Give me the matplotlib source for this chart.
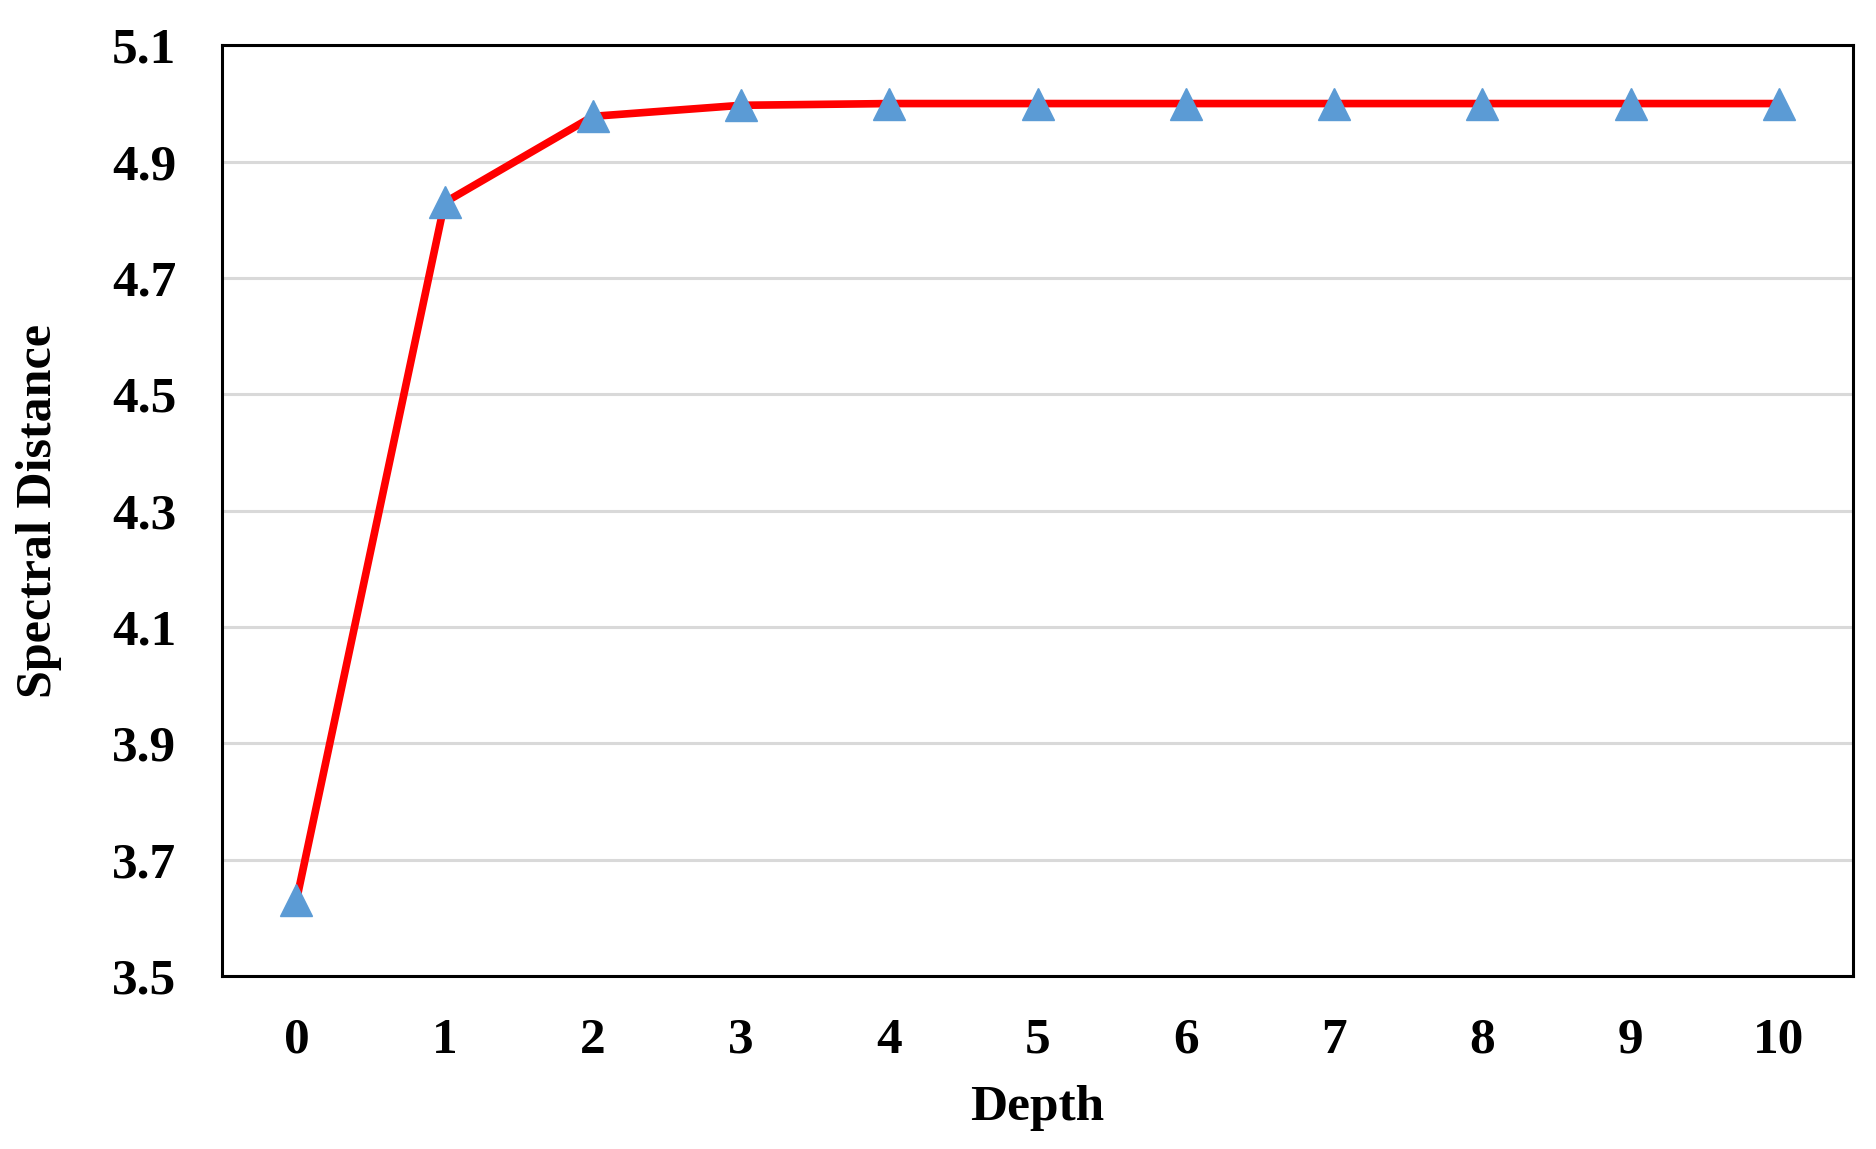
import matplotlib
matplotlib.use("Agg")
import matplotlib.pyplot as plt

# depth vs spectral distance
depth = [0, 1, 2, 3, 4, 5, 6, 7, 8, 9, 10]
spectral_distance = [3.63, 4.83, 4.978, 4.997, 5.0, 5.0, 5.0, 5.0, 5.0, 5.0, 5.0]
y_ticks = [3.5, 3.7, 3.9, 4.1, 4.3, 4.5, 4.7, 4.9, 5.1]

plt.rcParams['font.family'] = ['Liberation Serif', 'DejaVu Serif']
plt.rcParams['font.weight'] = 'bold'

fig = plt.figure(figsize=(18.76, 11.49), dpi=100)
ax = fig.add_axes([0.1185, 0.1505, 0.8692, 0.8100])

ax.plot(depth, spectral_distance, color='#ff0000', lw=5.5, zorder=3)
ax.plot(depth, spectral_distance, ls='none', marker='^', ms=23,
        color='#5b9bd5', zorder=4)

ax.set_xlim(-0.5, 10.5)
ax.set_ylim(3.5, 5.1)
ax.set_xticks(depth)
ax.set_yticks(y_ticks)
ax.set_yticklabels([f"{v:.1f}" for v in y_ticks])
ax.yaxis.grid(True, color='#d9d9d9', lw=2.2)
ax.set_axisbelow(True)
ax.tick_params(length=0, labelsize=37)
ax.tick_params(axis='y', pad=33)
ax.tick_params(axis='x', pad=30)
for s in ax.spines.values():
    s.set_linewidth(2.2)
    s.set_color('black')

ax.set_xlabel("Depth", fontsize=37, fontweight='bold', labelpad=15)
ax.set_ylabel("Spectral Distance", fontsize=36, fontweight='bold', labelpad=36)

fig.savefig("out.png", dpi=100)
